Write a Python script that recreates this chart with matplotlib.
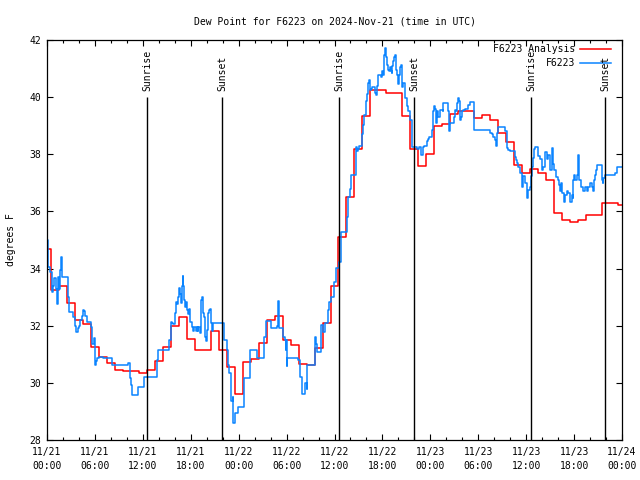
import matplotlib
matplotlib.use('Agg')
import matplotlib.pyplot as plt

# hours since 2024-11-21 00:00 UTC
red_hours = list(range(73))
red_vals = [34.7, 33.25, 33.4, 32.8, 32.2, 32.05, 31.25, 30.9, 30.7, 30.45,
            30.43, 30.43, 30.35, 30.45, 30.78, 31.25, 32.0, 32.32, 31.52, 31.15,
            31.15, 31.81, 31.15, 30.54, 29.6, 30.72, 30.82, 31.38, 32.2, 32.34,
            31.5, 31.33, 30.66, 30.63, 31.21, 32.08, 33.4, 35.12, 36.52, 38.17,
            39.34, 40.25, 40.25, 40.13, 40.13, 39.34, 38.2, 37.59, 38.01, 39.0,
            39.06, 39.4, 39.51, 39.51, 39.26, 39.39, 39.2, 38.73, 38.42, 37.63,
            37.33, 37.5, 37.33, 37.1, 35.94, 35.7, 35.62, 35.7, 35.87, 35.87,
            36.28, 36.28, 36.22]

blue_t = [0.0, 0.08, 0.17, 0.33, 0.58, 0.67, 0.79, 0.92, 1.09, 1.21, 1.34, 1.5,
          1.63, 1.75, 1.84, 1.92, 2.67, 2.75, 3.3, 3.51, 3.59, 3.84, 4.01, 4.13,
          4.42, 4.55, 4.67, 4.76, 4.97, 5.51, 5.59, 5.68, 5.93, 6.01, 6.1, 6.22,
          6.51, 7.0, 8.1, 10.18, 10.39, 10.52, 10.69, 11.44, 12.19, 13.73, 13.94,
          15.32, 15.49, 15.62, 15.74, 16.03, 16.15, 16.3, 16.45, 16.57, 16.66,
          16.78, 16.91, 17.0, 17.07, 17.16, 17.28, 17.37, 17.49, 17.7, 17.79,
          17.91, 18.11, 18.32, 18.45, 18.6, 18.74, 18.85, 18.95, 19.16, 19.29,
          19.41, 19.5, 19.58, 19.7, 19.79, 19.9, 20.0, 20.2, 20.33, 20.45, 20.54,
          20.66, 20.83, 22.17, 22.5, 22.71, 22.83, 23.0, 23.09, 23.25, 23.33,
          23.54, 23.96, 24.67, 25.45, 26.25, 27.21, 27.38, 28.05, 28.76, 28.97,
          29.1, 29.6, 29.81, 29.93, 29.97, 30.01, 30.05, 31.47, 31.68, 31.89,
          32.3, 32.51, 32.6, 33.56, 33.64, 33.77, 34.31, 34.6, 34.81, 35.15,
          35.31, 35.56, 35.98, 36.19, 36.56, 36.81, 37.53, 37.65, 37.73, 37.94,
          38.07, 38.65, 38.8, 38.9, 39.07, 39.4, 39.53, 39.74, 39.9, 40.03, 40.15,
          40.32, 40.45, 40.57, 40.74, 41.07, 41.16, 41.28, 41.41, 41.82, 41.99,
          42.11, 42.24, 42.32, 42.41, 42.54, 42.66, 42.82, 42.95, 43.07, 43.16,
          43.24, 43.37, 43.49, 43.58, 43.66, 43.79, 43.91, 43.99, 44.08, 44.2,
          44.33, 44.41, 44.49, 44.62, 44.83, 45.04, 45.25, 45.46, 45.66, 46.37,
          46.62, 46.85, 47.04, 47.21, 47.63, 47.75, 47.88, 48.17, 48.3, 48.38,
          48.46, 48.59, 48.71, 48.8, 49.0, 49.21, 49.55, 49.63, 50.13, 50.26,
          50.38, 50.46, 50.97, 51.09, 51.22, 51.3, 51.39, 51.51, 51.64, 51.72,
          51.8, 51.93, 52.14, 52.35, 52.76, 52.97, 53.47, 55.48, 55.68, 55.89,
          56.1, 56.23, 56.31, 56.52, 57.35, 57.56, 57.65, 57.77, 57.98, 58.4,
          58.61, 58.73, 58.9, 59.02, 59.23, 59.44, 59.65, 59.86, 60.07, 60.28,
          60.48, 60.57, 60.7, 60.82, 60.99, 61.11, 61.53, 61.74, 61.95, 62.16,
          62.37, 62.57, 62.78, 62.99, 63.2, 63.33, 63.49, 63.74, 64.04, 64.16,
          64.24, 64.33, 64.45, 64.75, 64.87, 65.08, 65.29, 65.5, 65.7, 65.83,
          65.91, 66.04, 66.16, 66.33, 66.54, 66.67, 66.83, 67.17, 67.38, 67.59,
          67.79, 68.0, 68.21, 68.34, 68.5, 68.63, 68.76, 68.92, 69.46, 69.59,
          69.67, 69.88, 71.13, 71.42, 72.0]
blue_v = [35.0, 34.42, 34.07, 33.89, 33.54, 33.19, 33.4, 33.66, 33.3, 32.76, 33.72, 33.3,
          33.95, 34.42, 33.9, 33.72, 33.0, 32.47, 32.32, 32.0, 31.77, 31.91, 32.0, 32.2,
          32.35, 32.55, 32.5, 32.35, 32.14, 31.95, 31.65, 31.35, 31.56, 30.63, 30.75, 30.86,
          30.92, 30.86, 30.63, 30.7, 30.16, 29.93, 29.57, 29.87, 30.19, 30.8, 31.15,
          31.5, 32.14, 32.1, 32.05, 32.43, 32.84, 32.75, 33.0, 33.31, 33.1,
          32.8, 33.38, 33.74, 33.4, 32.9, 32.67, 32.84, 32.55, 32.4, 32.6,
          32.14, 31.97, 31.8, 31.97, 31.8, 31.97, 31.8, 31.97, 31.75, 32.9,
          33.02, 32.7, 32.43, 32.3, 31.62, 31.45, 31.85, 32.43, 32.55, 32.6, 32.08,
          31.8, 32.08, 31.5, 31.15, 30.63, 30.33, 29.57, 29.35, 29.5, 28.6,
          28.93, 29.17, 30.16, 31.15, 30.86, 31.62, 32.16, 31.91, 32.0, 32.88,
          31.91, 31.6, 31.5, 31.15, 31.5, 30.59, 30.86, 30.8, 30.22, 29.61,
          30.0, 29.8, 30.63, 31.62, 31.35, 31.09, 32.03, 31.79, 32.08, 32.55,
          32.84, 33.0, 33.54, 34.01, 34.24, 35.29, 35.82, 36.1, 36.52, 36.8,
          37.28, 38.27, 38.1, 38.2, 38.29, 38.7, 39.03, 39.38, 39.85, 40.1, 40.48,
          40.6, 40.25, 40.3, 40.37, 40.15, 40.08, 40.4, 40.78, 40.7, 40.9,
          40.78, 41.48, 41.71, 41.4, 41.13, 40.95, 40.9, 41.05, 40.9, 40.85,
          41.1, 41.25, 41.42, 41.48, 40.95, 40.78, 40.55, 40.45, 40.78, 41.05,
          41.13, 40.75, 40.37, 40.5, 39.96, 39.7, 39.5, 39.2, 38.27, 38.2,
          38.27, 37.98, 38.27, 38.29, 38.45, 38.55, 38.59, 38.85, 39.2, 39.5,
          39.7, 39.57, 39.08, 39.5, 39.3, 39.55, 39.5, 39.79, 39.8, 39.5,
          38.83, 39.08, 39.3, 39.55, 39.5, 39.65, 39.79, 39.97, 39.85, 39.2,
          39.3, 39.5, 39.55, 39.6, 39.72, 39.82, 38.85, 38.75, 38.7, 38.6,
          38.5, 38.29, 38.75, 38.97, 38.8, 38.6, 38.21, 38.15, 38.1, 38.1,
          37.9, 37.8, 37.7, 37.57, 37.33, 36.87, 37.25, 37.0, 36.46, 36.75,
          36.87, 37.25, 37.57, 37.86, 38.2, 38.27, 37.95, 37.85, 37.45, 37.57,
          38.09, 37.85, 37.98, 37.45, 38.21, 37.67, 37.45, 37.22, 37.1, 36.92,
          36.7, 36.98, 36.65, 36.34, 36.57, 36.7, 36.65, 36.34, 36.57, 36.46,
          37.1, 37.28, 37.1, 37.28, 37.98, 37.1, 36.87, 36.7, 36.87, 36.7,
          36.87, 36.98, 36.87, 36.7, 37.1, 37.28, 37.45, 37.63, 37.1, 36.98,
          37.16, 37.28, 37.35, 37.57, 37.57]

sun_events = [12.58, 21.95, 36.6, 45.97, 60.62, 69.92]
sun_labels = ['Sunrise', 'Sunset', 'Sunrise', 'Sunset', 'Sunrise', 'Sunset']

tick_hours = list(range(0, 73, 6))
tick_labels = ['11/21\n00:00', '11/21\n06:00', '11/21\n12:00', '11/21\n18:00',
               '11/22\n00:00', '11/22\n06:00', '11/22\n12:00', '11/22\n18:00',
               '11/23\n00:00', '11/23\n06:00', '11/23\n12:00', '11/23\n18:00',
               '11/24\n00:00']

plt.rcParams['font.family'] = ['DejaVu Sans Mono']
plt.rcParams['font.size'] = 7

fig = plt.figure(figsize=(6.4, 4.8), dpi=100)
ax = fig.add_axes([47/640, 40/480, 575/640, 400/480])

red_c = '#ff0000'
blue_c = '#0a84ff'

ax.plot(red_hours, red_vals, drawstyle='steps-mid', color=red_c, lw=1.1)
ax.plot(blue_t, blue_v, drawstyle='steps-post', color=blue_c, lw=1.1)

for t, lab in zip(sun_events, sun_labels):
    ax.vlines(t, 28, 40, color='black', lw=1.0)
    ax.text(t, 40.2, lab, rotation=90, ha='center', va='bottom')

ax.set_xlim(0, 72)
ax.set_ylim(28, 42)
ax.set_xticks(tick_hours)
ax.set_xticklabels(tick_labels, linespacing=1.5)
ax.set_xticks(range(0, 73, 2), minor=True)
ax.set_yticks(range(28, 43, 2))
ax.tick_params(which='both', direction='in', top=True, right=True, width=0.8)
ax.tick_params(which='major', length=4, pad=4)
ax.tick_params(which='minor', length=2)
ax.tick_params(axis='x', which='major', pad=5)
for s in ax.spines.values():
    s.set_linewidth(0.9)

ax.set_ylabel('degrees F', labelpad=10)
ax.set_title('Dew Point for F6223 on 2024-Nov-21 (time in UTC)', fontsize=7, pad=11)

# legend drawn like gnuplot: right-aligned text then line sample
for i, (lab, c) in enumerate([('F6223 Analysis', red_c), ('F6223', blue_c)]):
    y = 0.9775 - i * 0.035
    ax.text(0.918, y, lab, ha='right', va='center', transform=ax.transAxes)
    ax.plot([0.927, 0.98], [y, y], color=c, lw=1.1, transform=ax.transAxes)

fig.savefig('out.png', dpi=100)
